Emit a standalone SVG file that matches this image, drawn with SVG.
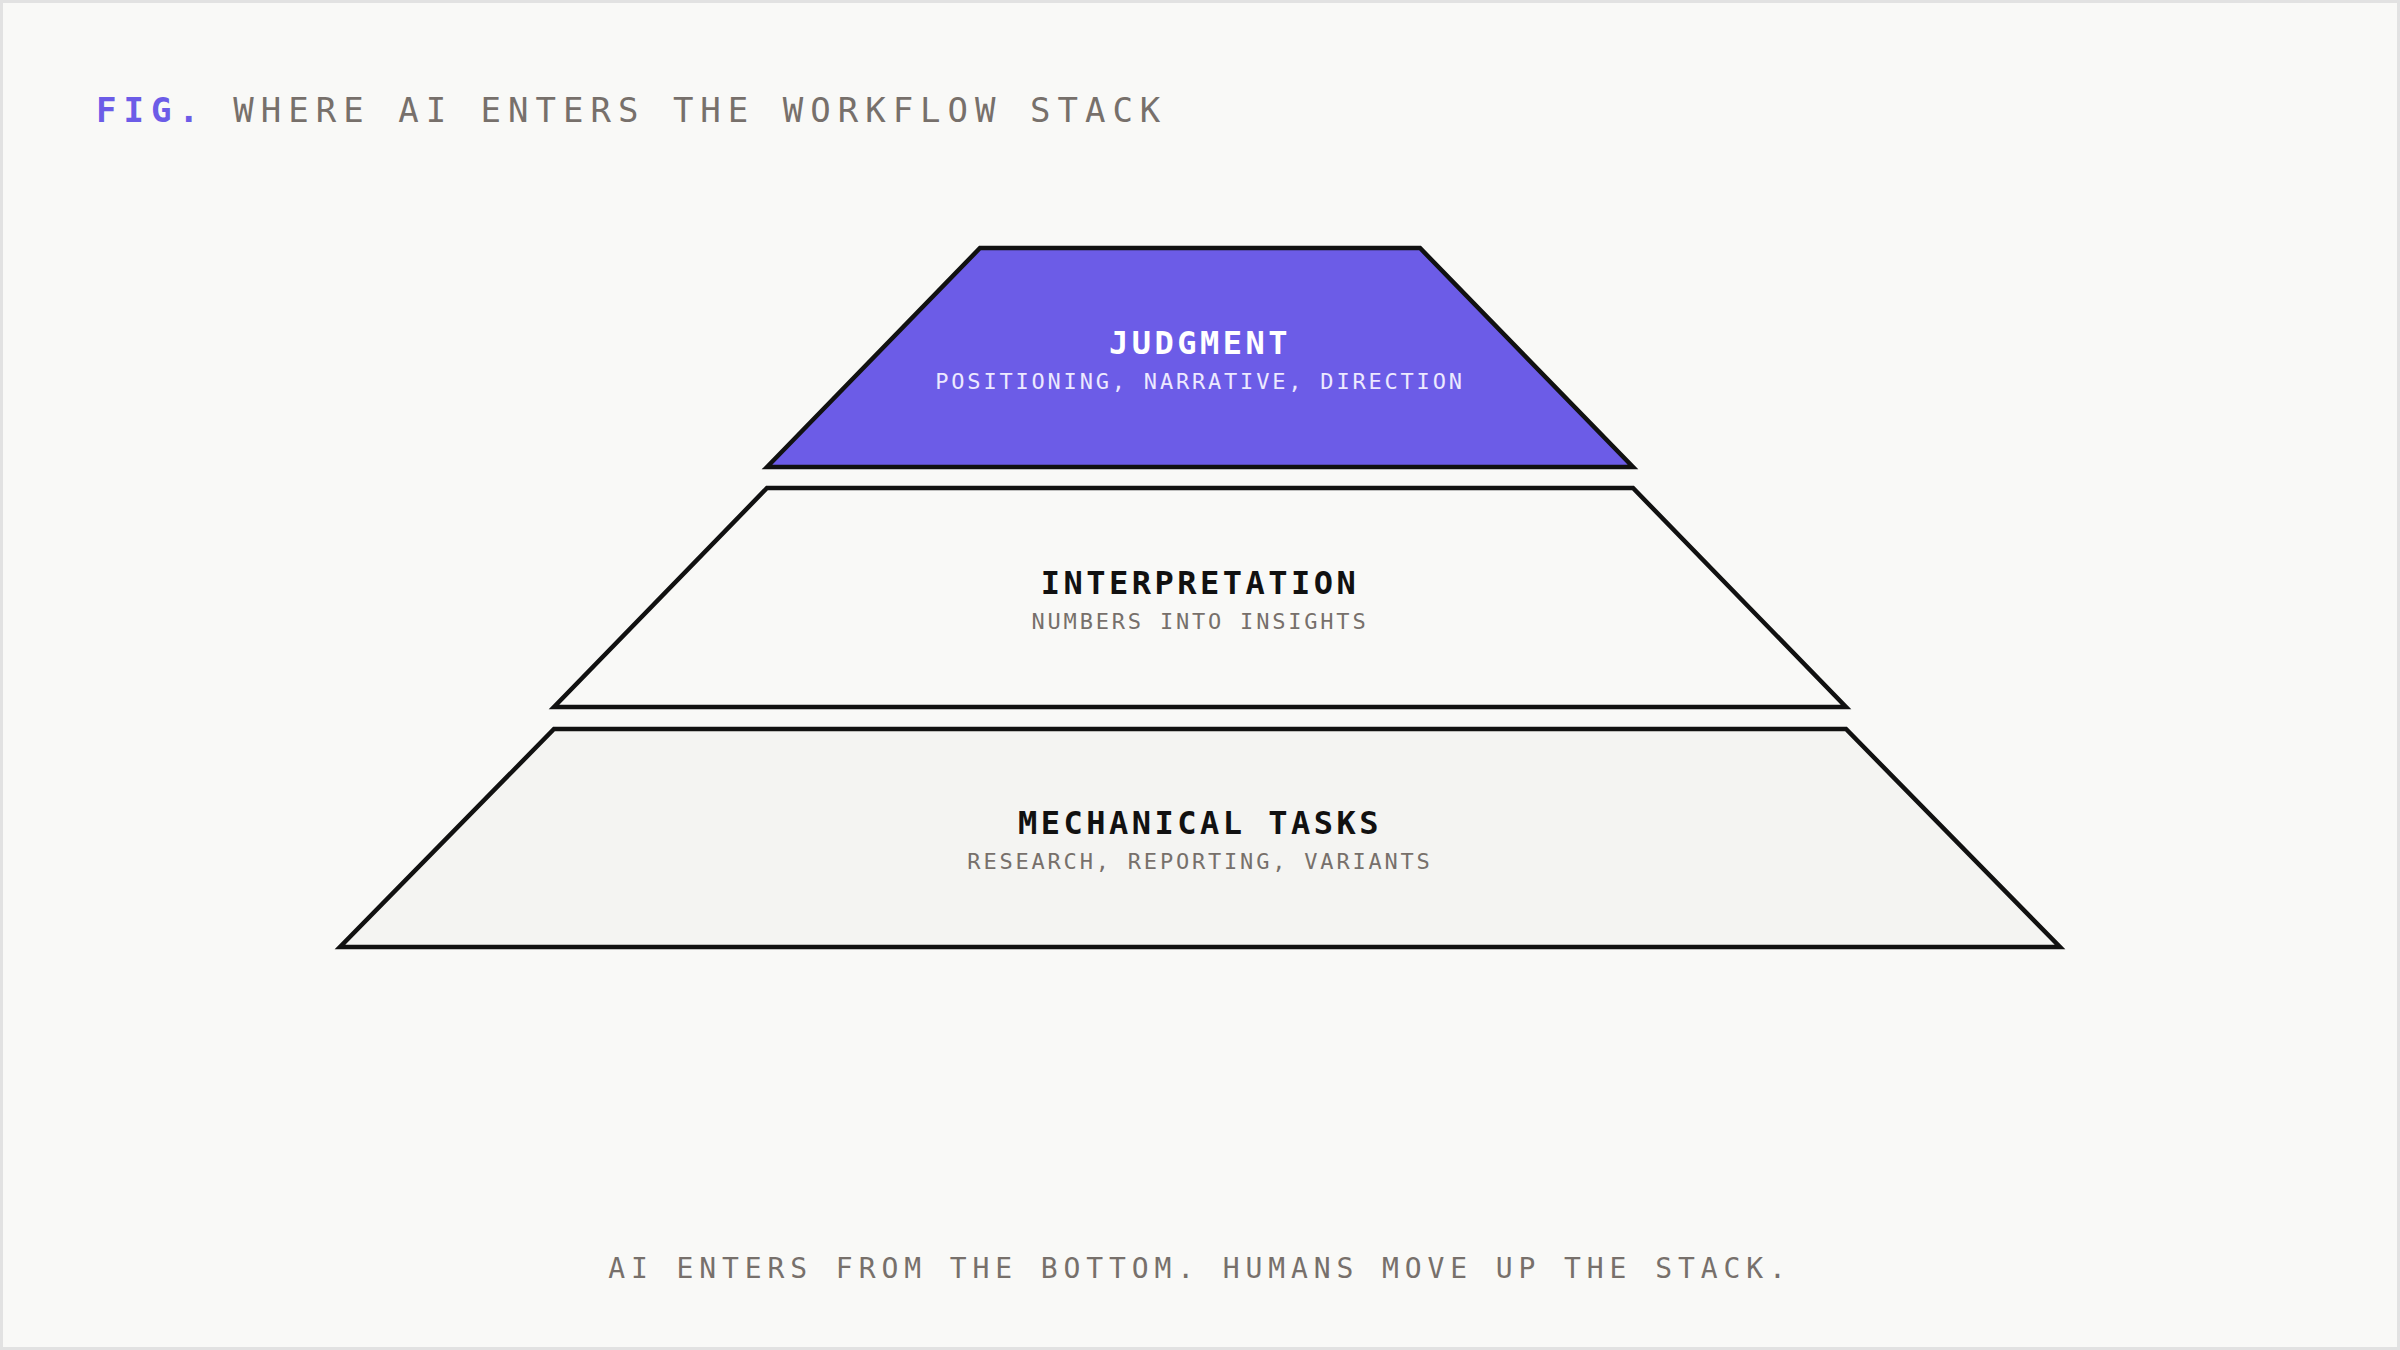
<svg xmlns="http://www.w3.org/2000/svg" width="2400" height="1350" viewBox="0 0 2400 1350">
<style>
.t{font-family:"DejaVu Sans Mono","Liberation Mono",monospace;}
.h{font-size:32px;font-weight:bold;letter-spacing:3.5px;text-anchor:middle}
.s{font-size:22px;letter-spacing:2.8px;text-anchor:middle;fill:#77706b}
.layer{stroke:#111;stroke-width:4.5;stroke-linejoin:miter}
</style>
<rect x="1.5" y="1.5" width="2397" height="1347" fill="#f9f9f7" stroke="#e2e2e2" stroke-width="3"/>
<text class="t" x="96" y="122" font-size="34" letter-spacing="7"><tspan fill="#6c5ce7" font-weight="bold">FIG.</tspan><tspan fill="#77706b"> WHERE AI ENTERS THE WORKFLOW STACK</tspan></text>
<g id="judgment">
<polygon class="layer" points="980,248 1420,248 1633,467 767,467" fill="#6c5ce7"/>
<text class="t h" x="1200" y="354" fill="#ffffff">JUDGMENT</text>
<text class="t s" x="1200" y="389" style="fill:#ece9ff">POSITIONING, NARRATIVE, DIRECTION</text>
</g>
<g id="interpretation">
<polygon class="layer" points="767,488 1633,488 1846,707 554,707" fill="#f9f9f7"/>
<text class="t h" x="1200" y="594" fill="#111">INTERPRETATION</text>
<text class="t s" x="1200" y="629">NUMBERS INTO INSIGHTS</text>
</g>
<g id="mechanical">
<polygon class="layer" points="554,729 1846,729 2060,947 340,947" fill="#f4f4f2"/>
<text class="t h" x="1200" y="834" fill="#111">MECHANICAL TASKS</text>
<text class="t s" x="1200" y="869">RESEARCH, REPORTING, VARIANTS</text>
</g>
<g id="connectors"></g>
<text class="t" x="1200" y="1278" font-size="28" letter-spacing="5.9" text-anchor="middle" fill="#77706b">AI ENTERS FROM THE BOTTOM. HUMANS MOVE UP THE STACK.</text>
</svg>
